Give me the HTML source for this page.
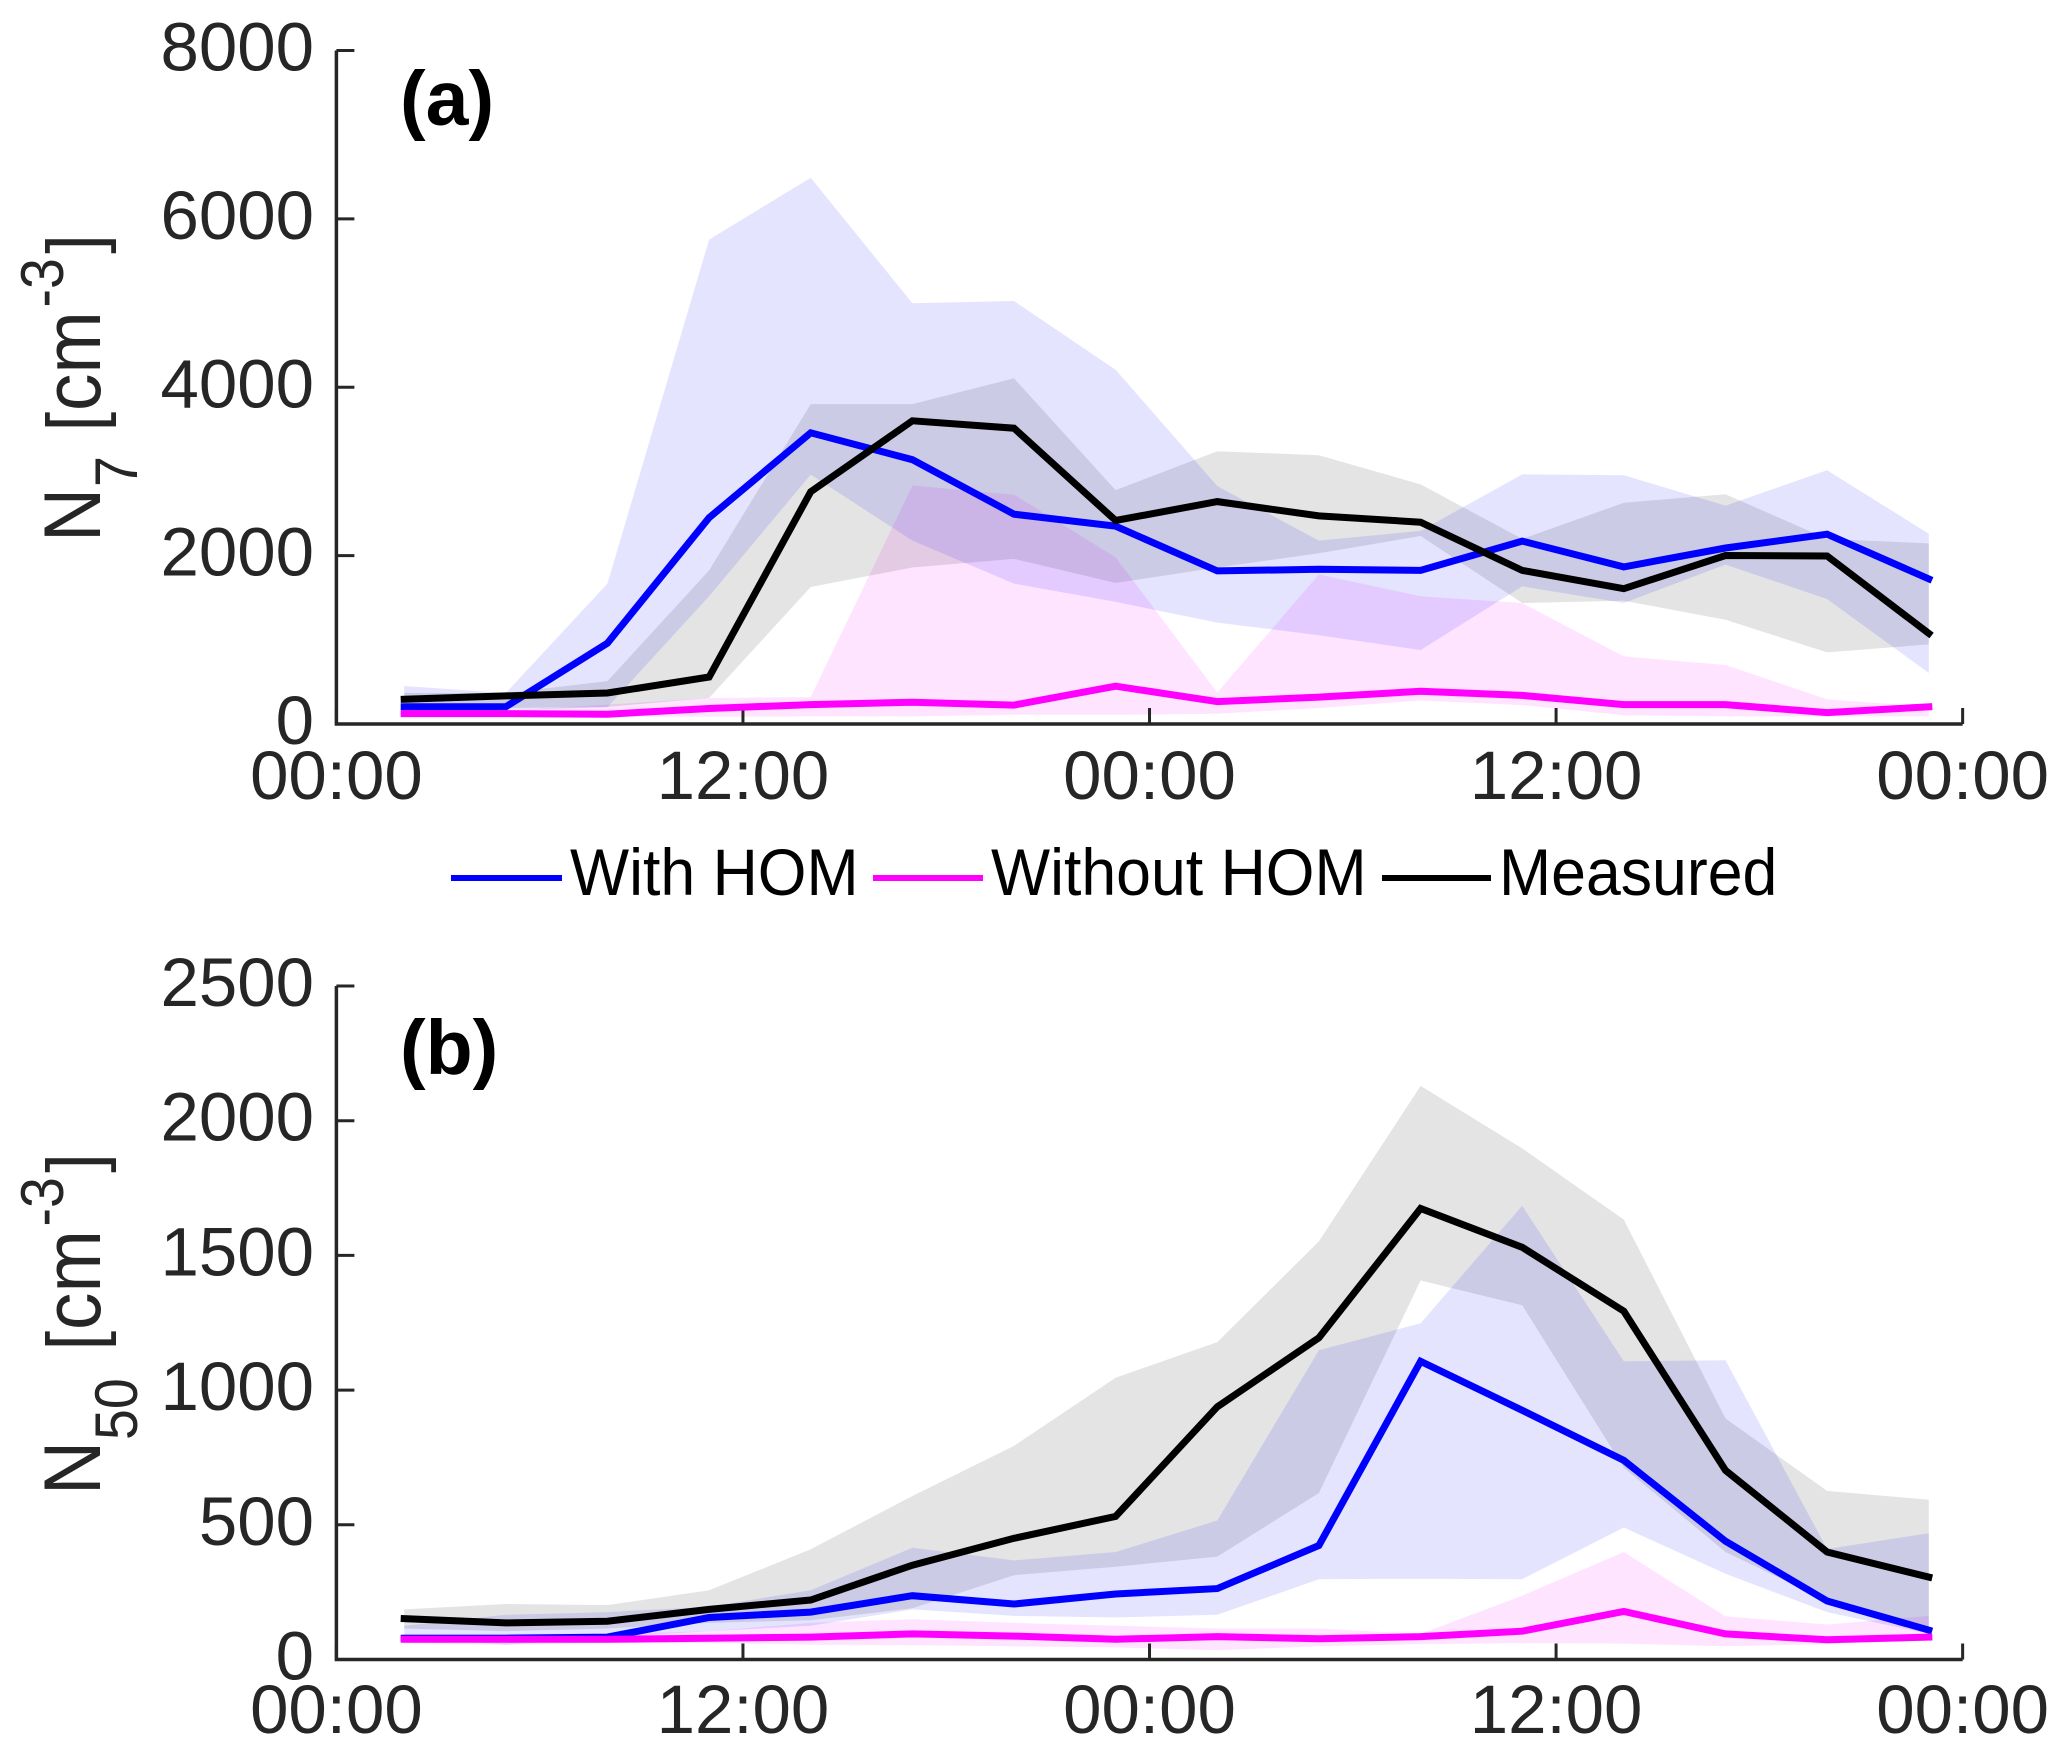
<!DOCTYPE html>
<html lang="en">
<head>
<meta charset="utf-8">
<title>N7 and N50 time series</title>
<style>
html,body{margin:0;padding:0;background:#fff;}
svg{display:block;font-family:"Liberation Sans",Arial,sans-serif;}
</style>
</head>
<body>
<svg id="chart" width="2067" height="1756" viewBox="0 0 2067 1756" xmlns="http://www.w3.org/2000/svg">
  <rect x="0" y="0" width="2067" height="1756" fill="#ffffff"/>
  <g id="panel-a"></g>
  <g id="panel-b"></g>

  <text x="400" y="125" font-size="77" font-weight="bold" fill="#000">(a)</text>
  <text x="400" y="1074" font-size="77" font-weight="bold" fill="#000">(b)</text>

  <text transform="translate(100,542) rotate(-90) scale(0.925,1)" font-size="81" fill="#262626"><tspan x="0" y="0">N</tspan><tspan x="59.5" y="37" font-size="60">7</tspan><tspan x="119.6" y="0" font-size="76">[</tspan><tspan x="141.6" y="0">cm</tspan><tspan x="253.5" y="-37" font-size="60">-3</tspan><tspan x="311.6" y="0" font-size="76">]</tspan></text>
  <text transform="translate(100,1495) rotate(-90) scale(0.925,1)" font-size="81" fill="#262626"><tspan x="0" y="0">N</tspan><tspan x="59.5" y="37" font-size="60">50</tspan><tspan x="156.4" y="0" font-size="76">[</tspan><tspan x="178.4" y="0">cm</tspan><tspan x="290.3" y="-37" font-size="60">-3</tspan><tspan x="348.4" y="0" font-size="76">]</tspan></text>

  <g>
    <g>
      <line x1="451" x2="562" y1="878" y2="878" stroke="#0000ff" stroke-width="6"/>
      <text transform="translate(570,895) scale(1,1.05)" font-size="62.6" fill="#000">With HOM</text>
    </g>
    <g>
      <line x1="873" x2="983" y1="878" y2="878" stroke="#ff00ff" stroke-width="6"/>
      <text transform="translate(991,895) scale(1,1.05)" font-size="62.6" fill="#000">Without HOM</text>
    </g>
    <g>
      <line x1="1382" x2="1491" y1="878" y2="878" stroke="#000000" stroke-width="6"/>
      <text transform="translate(1499,895) scale(1,1.05)" font-size="62.6" fill="#000">Measured</text>
    </g>
  </g>
</svg>

<script>
// Shared categories (hours since start of the first day)
var hours = [2,5,8,11,14,17,20,23,26,29,32,35,38,41,44,47];
var xTickHours = [0,12,24,36,48];
var xTickLabels = ['00:00','12:00','00:00','12:00','00:00'];

// Panel (a): N7
var aTicks = [0,2000,4000,6000,8000];
var aWithHom = [204,204,960,2451,3459,3139,2492,2349,1818,1838,1825,2172,1866,2090,2254,1723];
var aWithHomUpper = [451,368,1668,5754,6489,4998,5025,4208,2826,2179,2295,2965,2955,2594,3015,2260];
var aWithHomLower = [140,166,200,1518,2962,2179,1668,1450,1205,1055,878,1634,1437,1893,1484,606];
var aWithout = [123,123,116,184,231,259,225,449,266,320,388,340,231,231,136,204];
var aWithoutUpper = [170,160,230,309,320,2833,2724,1981,374,1777,1518,1437,803,701,293,204];
var aWithoutLower = [90,90,90,85,90,90,109,109,122,190,279,225,103,90,90,90];
var aMeasured = [293,334,368,558,2758,3602,3513,2417,2642,2472,2397,1825,1607,2002,1995,1076];
var aMeasuredUpper = [368,368,510,1825,3800,3800,4106,2778,3240,3193,2846,2199,2628,2730,2199,2145];
var aMeasuredLower = [210,190,203,309,1627,1859,1961,1675,1859,2029,2233,1437,1464,1239,851,946];

// Panel (b): N50
var bTicks = [0,500,1000,1500,2000,2500];
var bWithHom = [79,79,83,156,176,237,206,243,263,423,1107,925,739,439,217,109];
var bWithHomUpper = [125,166,176,196,257,415,368,399,516,1148,1248,1684,1107,1111,410,469];
var bWithHomLower = [85,55,81,105,125,186,162,156,166,298,300,298,490,318,176,95];
var bWithout = [75,75,75,79,83,95,87,75,85,77,85,105,178,95,73,83];
var bWithoutUpper = [95,95,95,105,136,150,136,125,115,115,95,237,399,160,130,162];
var bWithoutLower = [61,55,61,61,55,53,49,45,34,49,57,61,59,49,57,75];
var bMeasured = [152,136,142,186,221,350,450,531,938,1194,1674,1530,1293,702,399,306];
var bMeasuredUpper = [186,206,202,257,409,607,793,1046,1178,1552,2129,1897,1633,895,626,593];
var bMeasuredLower = [115,105,115,136,146,190,313,344,382,618,1407,1315,712,399,217,105];

var SVGNS = 'http://www.w3.org/2000/svg';
var INK = '#262626';
var X0 = 336.4, PX_PER_HOUR = 33.88;
function xScale(h){ return X0 + h * PX_PER_HOUR; }
function makeYScale(maxV, yBottom, yTop){
  return function(v){ return yBottom - (v / maxV) * (yBottom - yTop); };
}
function node(tag, parent){
  var el = document.createElementNS(SVGNS, tag);
  parent.appendChild(el);
  return el;
}
function drawBand(parent, upper, lower, color, yScale, name){
  var pts = [], i;
  for (i = 0; i < hours.length; i++) pts.push(xScale(hours[i]).toFixed(1) + ',' + yScale(upper[i]).toFixed(1));
  for (i = hours.length - 1; i >= 0; i--) pts.push(xScale(hours[i]).toFixed(1) + ',' + yScale(lower[i]).toFixed(1));
  var el = node('polygon', parent);
  
  
  el.setAttribute('points', pts.join(' '));
  el.setAttribute('fill', color);
  el.setAttribute('fill-opacity', '0.105');
}
function drawLine(parent, values, color, yScale, name){
  var pts = [];
  for (var i = 0; i < hours.length; i++) pts.push(xScale(hours[i]).toFixed(1) + ',' + yScale(values[i]).toFixed(1));
  var el = node('polyline', parent);
  
  
  el.setAttribute('points', pts.join(' '));
  el.setAttribute('fill', 'none');
  el.setAttribute('stroke', color);
  el.setAttribute('stroke-width', '7');
  el.setAttribute('stroke-linejoin', 'miter');
  el.setAttribute('stroke-linecap', 'square');
}
function drawAxes(parent, ticks, yScale, xLabelBaseline, prefix){
  var yBottom = yScale(0), yTop = yScale(ticks[ticks.length - 1]);
  var axis = node('path', parent);
  
  
  axis.setAttribute('d', 'M' + X0 + ' ' + yTop + 'V' + yBottom + 'H' + xScale(48));
  axis.setAttribute('fill', 'none');
  axis.setAttribute('stroke', INK);
  axis.setAttribute('stroke-width', '3.5');
  ticks.forEach(function(t){
    var y = yScale(t);
    var tick = node('line', parent);
    
    
    tick.setAttribute('x1', X0);
    tick.setAttribute('x2', X0 + 18);
    tick.setAttribute('y1', y);
    tick.setAttribute('y2', y);
    tick.setAttribute('stroke', INK);
    tick.setAttribute('stroke-width', '3');
    var label = node('text', parent);
    
    
    label.setAttribute('x', 314);
    label.setAttribute('y', y + 20);
    label.setAttribute('text-anchor', 'end');
    label.setAttribute('font-size', '69');
    label.setAttribute('fill', INK);
    label.textContent = String(t);
  });
  xTickHours.forEach(function(h, i){
    var x = xScale(h);
    var tick = node('line', parent);
    
    
    tick.setAttribute('x1', x);
    tick.setAttribute('x2', x);
    tick.setAttribute('y1', yBottom);
    tick.setAttribute('y2', yBottom - 16);
    tick.setAttribute('stroke', INK);
    tick.setAttribute('stroke-width', '3');
    var label = node('text', parent);
    
    
    label.setAttribute('x', x);
    label.setAttribute('y', xLabelBaseline);
    label.setAttribute('text-anchor', 'middle');
    label.setAttribute('font-size', '69');
    label.setAttribute('fill', INK);
    label.textContent = xTickLabels[i];
  });
}

var yA = makeYScale(8000, 724, 50.5);
var yB = makeYScale(2500, 1659.5, 986);
var gA = document.getElementById('panel-a');
var gB = document.getElementById('panel-b');

drawBand(gA, aWithoutUpper, aWithoutLower, '#ff00ff', yA, 'band-a-without-hom');
drawBand(gA, aMeasuredUpper, aMeasuredLower, '#000000', yA, 'band-a-measured');
drawBand(gA, aWithHomUpper, aWithHomLower, '#0000ff', yA, 'band-a-with-hom');
drawAxes(gA, aTicks, yA, 799, 'panel-a');
drawLine(gA, aWithHom, '#0000ff', yA, 'line-a-with-hom');
drawLine(gA, aWithout, '#ff00ff', yA, 'line-a-without-hom');
drawLine(gA, aMeasured, '#000000', yA, 'line-a-measured');

drawBand(gB, bWithoutUpper, bWithoutLower, '#ff00ff', yB, 'band-b-without-hom');
drawBand(gB, bMeasuredUpper, bMeasuredLower, '#000000', yB, 'band-b-measured');
drawBand(gB, bWithHomUpper, bWithHomLower, '#0000ff', yB, 'band-b-with-hom');
drawAxes(gB, bTicks, yB, 1733, 'panel-b');
drawLine(gB, bMeasured, '#000000', yB, 'line-b-measured');
drawLine(gB, bWithHom, '#0000ff', yB, 'line-b-with-hom');
drawLine(gB, bWithout, '#ff00ff', yB, 'line-b-without-hom');
</script>
</body>
</html>
